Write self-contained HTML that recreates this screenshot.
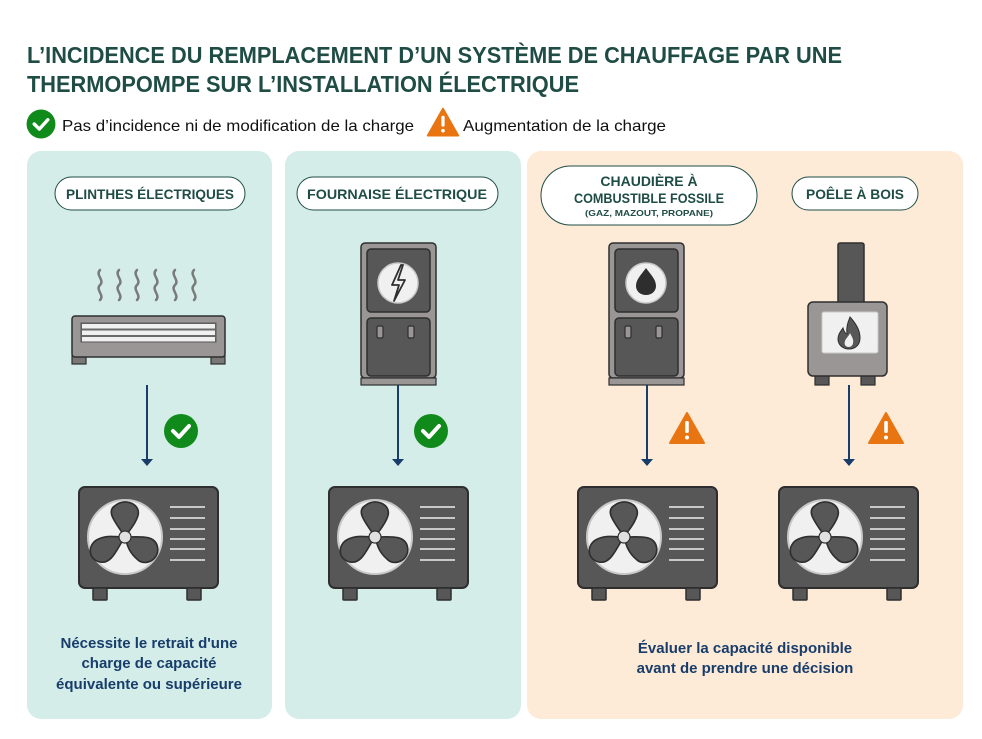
<!DOCTYPE html>
<html><head><meta charset="utf-8"><style>
html,body{margin:0;padding:0;background:#fff}
svg{display:block}
text{font-family:"Liberation Sans",sans-serif}
</style></head><body>
<svg width="982" height="739" viewBox="0 0 982 739" xmlns="http://www.w3.org/2000/svg">
<defs>
<g id="hp">
  <rect x="0" y="0" width="139" height="101" rx="6" fill="#575757" stroke="#2e2e2e" stroke-width="2"/>
  <rect x="14" y="101" width="14" height="12" rx="1" fill="#575757" stroke="#2e2e2e" stroke-width="1.5"/>
  <rect x="108" y="101" width="14" height="12" rx="1" fill="#575757" stroke="#2e2e2e" stroke-width="1.5"/>
  <circle cx="46" cy="50" r="37" fill="#f0f0f0" stroke="#c8c8c8" stroke-width="2"/>
  <g fill="#575757" stroke="#2e2e2e" stroke-width="1.3" transform="translate(46 50) scale(1.25) translate(-46 -50)">
    <path d="M46 50 C40 40 30 30 38 25 C46 18 60 24 56 34 C54 40 50 44 46 50Z"/>
    <path d="M46 50 C58 50 70 48 72 58 C74 68 62 74 56 68 C50 63 48 58 46 50Z"/>
    <path d="M46 50 C40 58 36 72 26 70 C16 68 16 56 24 52 C32 48 38 50 46 50Z"/>
  </g>
  <circle cx="46" cy="50" r="6" fill="#e0e0e0" stroke="#2e2e2e" stroke-width="1.2"/>
  <g stroke="#c8c8c8" stroke-width="2">
    <line x1="91" y1="20" x2="126" y2="20"/><line x1="91" y1="31" x2="126" y2="31"/>
    <line x1="91" y1="42" x2="126" y2="42"/><line x1="91" y1="52" x2="126" y2="52"/>
    <line x1="91" y1="62" x2="126" y2="62"/><line x1="91" y1="73" x2="126" y2="73"/>
  </g>
</g>
<g id="furn">
  <rect x="0" y="0" width="75" height="135" rx="4" fill="#9a9696" stroke="#2e2e2e" stroke-width="1.5"/>
  <rect x="0" y="135" width="75" height="7" fill="#9a9696" stroke="#2e2e2e" stroke-width="1.2"/>
  <rect x="6" y="6" width="63" height="63" rx="4" fill="#575757" stroke="#2e2e2e" stroke-width="1.5"/>
  <rect x="6" y="75" width="63" height="58" rx="4" fill="#575757" stroke="#2e2e2e" stroke-width="1.5"/>
  <circle cx="37" cy="40" r="20" fill="#f0f0f0" stroke="#c8c8c8" stroke-width="1.5"/>
  <rect x="16" y="83" width="6" height="12" rx="1.5" fill="#9a9696" stroke="#2e2e2e" stroke-width="1.2"/>
  <rect x="47" y="83" width="6" height="12" rx="1.5" fill="#9a9696" stroke="#2e2e2e" stroke-width="1.2"/>
</g>
<g id="chk"><circle r="17" fill="#108a1a"/><path d="M-8 0 L-2 6 L8 -5" fill="none" stroke="#fff" stroke-width="4" stroke-linecap="round" stroke-linejoin="round"/></g>
<g id="warn"><path d="M0 -16 L17 14 L-17 14Z" fill="#e87511" stroke="#e87511" stroke-width="2" stroke-linejoin="round"/><rect x="-1.8" y="-8" width="3.6" height="12" rx="1.5" fill="#fff"/><circle cx="0" cy="8.5" r="2" fill="#fff"/></g>
<g id="arr"><line x1="0" y1="0" x2="0" y2="-80" stroke="#183d6b" stroke-width="2"/><path d="M-6 -6 L6 -6 L0 1Z" fill="#183d6b"/></g>
</defs>

<text x="27" y="63" font-size="23" font-weight="bold" fill="#1f4d45" textLength="815" lengthAdjust="spacingAndGlyphs">L’INCIDENCE DU REMPLACEMENT D’UN SYSTÈME DE CHAUFFAGE PAR UNE</text>
<text x="27" y="92" font-size="23" font-weight="bold" fill="#1f4d45" textLength="552" lengthAdjust="spacingAndGlyphs">THERMOPOMPE SUR L’INSTALLATION ÉLECTRIQUE</text>

<g transform="translate(41 124) scale(0.85)"><use href="#chk"/></g>
<text x="62" y="131" font-size="16" fill="#111" textLength="352" lengthAdjust="spacingAndGlyphs">Pas d’incidence ni de modification de la charge</text>
<g transform="translate(443 123) scale(0.9)"><use href="#warn"/></g>
<text x="463" y="131" font-size="16" fill="#111" textLength="203" lengthAdjust="spacingAndGlyphs">Augmentation de la charge</text>

<rect x="27" y="151" width="245" height="568" rx="14" fill="#d4ede9"/>
<rect x="285" y="151" width="236" height="568" rx="14" fill="#d4ede9"/>
<rect x="527" y="151" width="436" height="568" rx="14" fill="#fdead7"/>

<g font-weight="bold" fill="#1f4d45" text-anchor="middle">
<rect x="55" y="177" width="190" height="33" rx="16.5" fill="#fff" stroke="#1f4d45" stroke-width="1"/>
<text x="150" y="199" font-size="14" textLength="168" lengthAdjust="spacingAndGlyphs">PLINTHES ÉLECTRIQUES</text>
<rect x="297" y="177" width="201" height="33" rx="16.5" fill="#fff" stroke="#1f4d45" stroke-width="1"/>
<text x="397" y="199" font-size="14" textLength="180" lengthAdjust="spacingAndGlyphs">FOURNAISE ÉLECTRIQUE</text>
<rect x="541" y="166" width="216" height="59" rx="29.5" fill="#fff" stroke="#1f4d45" stroke-width="1"/>
<text x="649" y="186" font-size="14">CHAUDIÈRE À</text>
<text x="649" y="203" font-size="14" textLength="150" lengthAdjust="spacingAndGlyphs">COMBUSTIBLE FOSSILE</text>
<text x="649" y="216" font-size="8.5" textLength="128" lengthAdjust="spacingAndGlyphs">(GAZ, MAZOUT, PROPANE)</text>
<rect x="792" y="177" width="126" height="33" rx="16.5" fill="#fff" stroke="#1f4d45" stroke-width="1"/>
<text x="855" y="199" font-size="14" textLength="98" lengthAdjust="spacingAndGlyphs">POÊLE À BOIS</text>
</g>

<!-- radiator -->
<g fill="none" stroke="#7a7a7a" stroke-width="2.5" stroke-linecap="round">
<path d="M100 270 c-5 5 5 10 0 15 c-5 5 5 10 0 15"/>
<path d="M119 270 c-5 5 5 10 0 15 c-5 5 5 10 0 15"/>
<path d="M137 270 c-5 5 5 10 0 15 c-5 5 5 10 0 15"/>
<path d="M156 270 c-5 5 5 10 0 15 c-5 5 5 10 0 15"/>
<path d="M175 270 c-5 5 5 10 0 15 c-5 5 5 10 0 15"/>
<path d="M194 270 c-5 5 5 10 0 15 c-5 5 5 10 0 15"/>
</g>
<rect x="72" y="356" width="14" height="8" fill="#7a7777" stroke="#2e2e2e" stroke-width="1.2"/>
<rect x="211" y="356" width="14" height="8" fill="#7a7777" stroke="#2e2e2e" stroke-width="1.2"/>
<rect x="72" y="316" width="153" height="41" rx="3" fill="#9a9696" stroke="#2e2e2e" stroke-width="1.5"/>
<rect x="81" y="323" width="135" height="19" fill="#6a6a6a" stroke="#555" stroke-width="1"/>
<rect x="82" y="324" width="133" height="4.5" fill="#f0f0f0"/>
<rect x="82" y="330.5" width="133" height="4.5" fill="#f0f0f0"/>
<rect x="82" y="337" width="133" height="4.5" fill="#f0f0f0"/>

<!-- furnaces -->
<use href="#furn" x="361" y="243"/>
<path d="M401 265 L392 285 L399 285 L394 301 L405 280 L398 280 L403 265Z" fill="none" stroke="#2e2e2e" stroke-width="1.8" stroke-linejoin="round"/>
<use href="#furn" x="609" y="243"/>
<path d="M646 268 C652 276 656 280 656 286 C656 291 652 295 646 295 C640 295 636 291 636 286 C636 280 640 276 646 268Z" fill="#2e2e2e"/>

<!-- stove -->
<rect x="838" y="243" width="26" height="62" rx="2" fill="#575757" stroke="#2e2e2e" stroke-width="1.5"/>
<rect x="815" y="374" width="14" height="11" fill="#575757" stroke="#2e2e2e" stroke-width="1.2"/>
<rect x="861" y="374" width="14" height="11" fill="#575757" stroke="#2e2e2e" stroke-width="1.2"/>
<rect x="808" y="302" width="79" height="74" rx="5" fill="#9a9696" stroke="#2e2e2e" stroke-width="1.5"/>
<rect x="822" y="312" width="56" height="41" rx="2" fill="#f0f0f0" stroke="#c8c8c8" stroke-width="1"/>
<path d="M850 317 C858 326 860 332 860 338 C860 345 855 349 849 349 C843 349 838 345 838 339 C838 334 841 331 843 328 C844 332 846 334 847 334 C846 327 848 322 850 317Z" fill="#575757" stroke="#2e2e2e" stroke-width="1"/>
<path d="M849 347 C845 347 844 344 845 341 C846 338 849 336 850 333 C852 337 854 340 853 343 C853 345 851 347 849 347Z" fill="#f0f0f0"/>

<!-- arrows & icons -->
<use href="#arr" x="147" y="465"/>
<use href="#arr" x="398" y="465"/>
<use href="#arr" x="647" y="465"/>
<use href="#arr" x="849" y="465"/>
<use href="#chk" x="181" y="431"/>
<use href="#chk" x="431" y="431"/>
<use href="#warn" x="687" y="429"/>
<use href="#warn" x="886" y="429"/>

<use href="#hp" x="79" y="487"/>
<use href="#hp" x="329" y="487"/>
<use href="#hp" x="578" y="487"/>
<use href="#hp" x="779" y="487"/>

<g font-weight="bold" fill="#183d6b" text-anchor="middle" font-size="15">
<text x="149" y="648">Nécessite le retrait d'une</text>
<text x="149" y="668">charge de capacité</text>
<text x="149" y="689">équivalente ou supérieure</text>
<text x="745" y="653">Évaluer la capacité disponible</text>
<text x="745" y="673">avant de prendre une décision</text>
</g>
</svg>
</body></html>
